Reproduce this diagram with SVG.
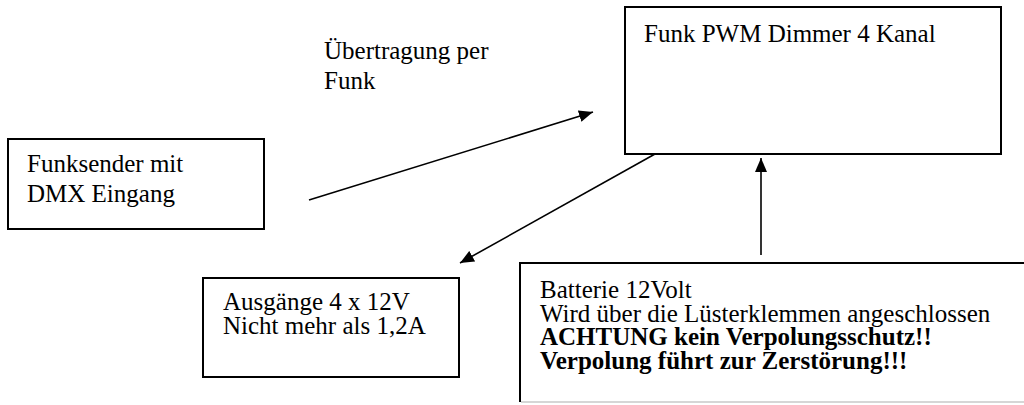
<svg xmlns="http://www.w3.org/2000/svg" width="1024" height="405" viewBox="0 0 1024 405">
<defs>
<style>
.box{fill:#fff;stroke:#000;stroke-width:2}
.t{font-family:"Liberation Serif","Times New Roman",serif;font-size:25px;fill:#000}
.b{font-weight:bold}
.c{stroke:#000;stroke-width:1.6;fill:none}
</style>
<marker id="ah" viewBox="0 0 14 12" refX="14" refY="6" markerWidth="14" markerHeight="12" markerUnits="userSpaceOnUse" orient="auto">
<path d="M0,0 L14,6 L0,12 Z" fill="#000"/>
</marker>
</defs>
<rect width="1024" height="405" fill="#fff"/>
<g id="funksender">
<rect class="box" x="8" y="139" width="256" height="90"/>
<text class="t" x="27" y="172">Funksender mit</text>
<text class="t" x="27" y="202">DMX Eingang</text>
</g>
<g id="dimmer">
<rect class="box" x="625" y="7" width="376" height="147"/>
<text class="t" x="644" y="42">Funk PWM Dimmer 4 Kanal</text>
</g>
<g id="label-funk">
<text class="t" x="324" y="59">Übertragung per</text>
<text class="t" x="324" y="89">Funk</text>
</g>
<g id="ausgaenge">
<rect class="box" x="203" y="278" width="256" height="99"/>
<text class="t" x="223" y="310">Ausgänge 4 x 12V</text>
<text class="t" x="223" y="334">Nicht mehr als 1,2A</text>
</g>
<g id="batterie">
<path d="M1030,263 H520 V402" fill="none" stroke="#000" stroke-width="2"/>
<path d="M521,402 H1030" fill="none" stroke="#c8c8c8" stroke-width="1.5"/>
<text class="t" x="540" y="298">Batterie 12Volt</text>
<text class="t" x="540" y="322">Wird über die Lüsterklemmen angeschlossen</text>
<text class="t b" x="540" y="345">ACHTUNG kein Verpolungsschutz!!</text>
<text class="t b" x="540" y="369">Verpolung führt zur Zerstörung!!!</text>
</g>
<g id="connectors">
<line class="c" x1="309" y1="200" x2="593" y2="112" marker-end="url(#ah)"/>
<line class="c" x1="655" y1="154" x2="460" y2="263" marker-end="url(#ah)"/>
<line class="c" x1="761" y1="255" x2="761" y2="158" marker-end="url(#ah)"/>
</g>
</svg>
